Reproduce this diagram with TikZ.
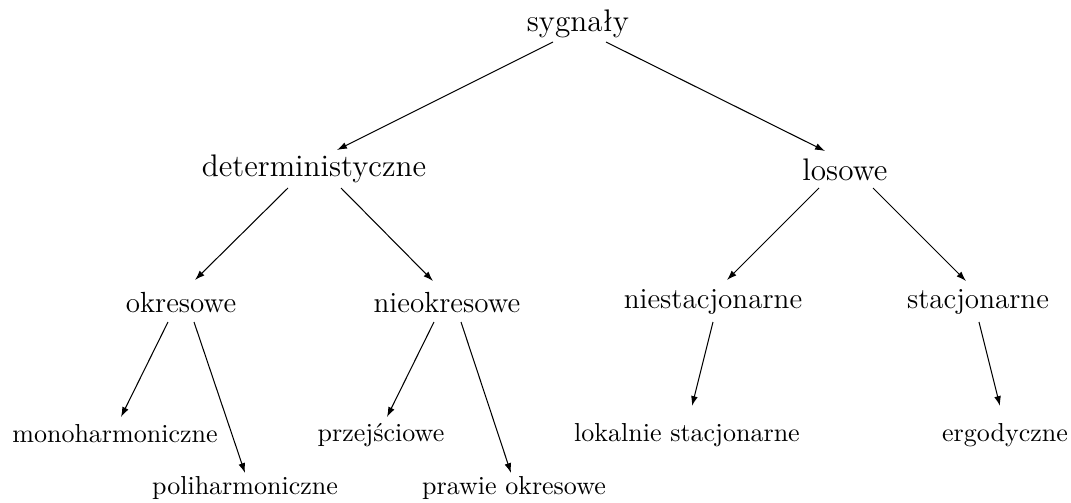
\documentclass[tikz,border=0pt]{standalone}
\usetikzlibrary{calc,arrows.meta}
\tikzset{
  lvltop/.style={font=\fontsize{12}{14}\selectfont, anchor=base, inner sep=0pt},
  lvlmid/.style={font=\fontsize{11.2}{13}\selectfont, anchor=base, inner sep=0pt},
  lvlbot/.style={font=\fontsize{10}{12}\selectfont, anchor=base, inner sep=0pt},
  arr/.style={-{Latex[length=3.8pt,width=2.6pt]}, line width=0.4pt}
}
\begin{document}
\begin{tikzpicture}[x=0.3846pt,y=-0.3846pt]
\useasboundingbox (0,0) rectangle (1071,503);
% nodes (base anchors at measured positions)
\node[lvltop] (syg) at (578,32) {sygnały};
\node[lvltop] (det) at (314,177) {deterministyczne};
\node[lvltop] (los) at (845,180) {losowe};
\node[lvlmid] (okr) at (181,312) {okresowe};
\node[lvlmid] (nok) at (447,312) {nieokresowe};
\node[lvlmid] (nst) at (713,309) {niestacjonarne};
\node[lvlmid] (sta) at (978,309) {stacjonarne};
\node[lvlbot] (mono) at (115,443) {monoharmoniczne};
\node[lvlbot] (poli) at (245,494) {poliharmoniczne};
\node[lvlbot] (prz) at (381,442) {przejściowe};
\node[lvlbot] (pra) at (514,494) {prawie okresowe};
\node[lvlbot] (lok) at (687,442) {lokalnie stacjonarne};
\node[lvlbot] (erg) at (1005,442) {ergodyczne};
% connectors
\draw[arr] ($(syg.base)+(-25,10)$) -- ($(det.base)+(23,-27)$);
\draw[arr] ($(syg.base)+(28,10)$) -- ($(los.base)+(-20,-29)$);
\draw[arr] ($(det.base)+(-26,11)$) -- ($(okr.base)+(14,-32)$);
\draw[arr] ($(det.base)+(27,11)$) -- ($(nok.base)+(-14,-31)$);
\draw[arr] ($(los.base)+(-26,8)$) -- ($(nst.base)+(14,-29)$);
\draw[arr] ($(los.base)+(28,8)$) -- ($(sta.base)+(-12,-28)$);
\draw[arr] ($(okr.base)+(-13,10)$) -- ($(mono.base)+(6,-26)$);
\draw[arr] ($(okr.base)+(13,10)$) -- ($(poli.base)+(0,-21)$);
\draw[arr] ($(nok.base)+(-13,10)$) -- ($(prz.base)+(6,-25)$);
\draw[arr] ($(nok.base)+(14,10)$) -- ($(pra.base)+(-3,-21)$);
\draw[arr] ($(nst.base)+(0,13)$) -- ($(lok.base)+(5,-36)$);
\draw[arr] ($(sta.base)+(1,13)$) -- ($(erg.base)+(-5,-36)$);
\end{tikzpicture}
\end{document}
